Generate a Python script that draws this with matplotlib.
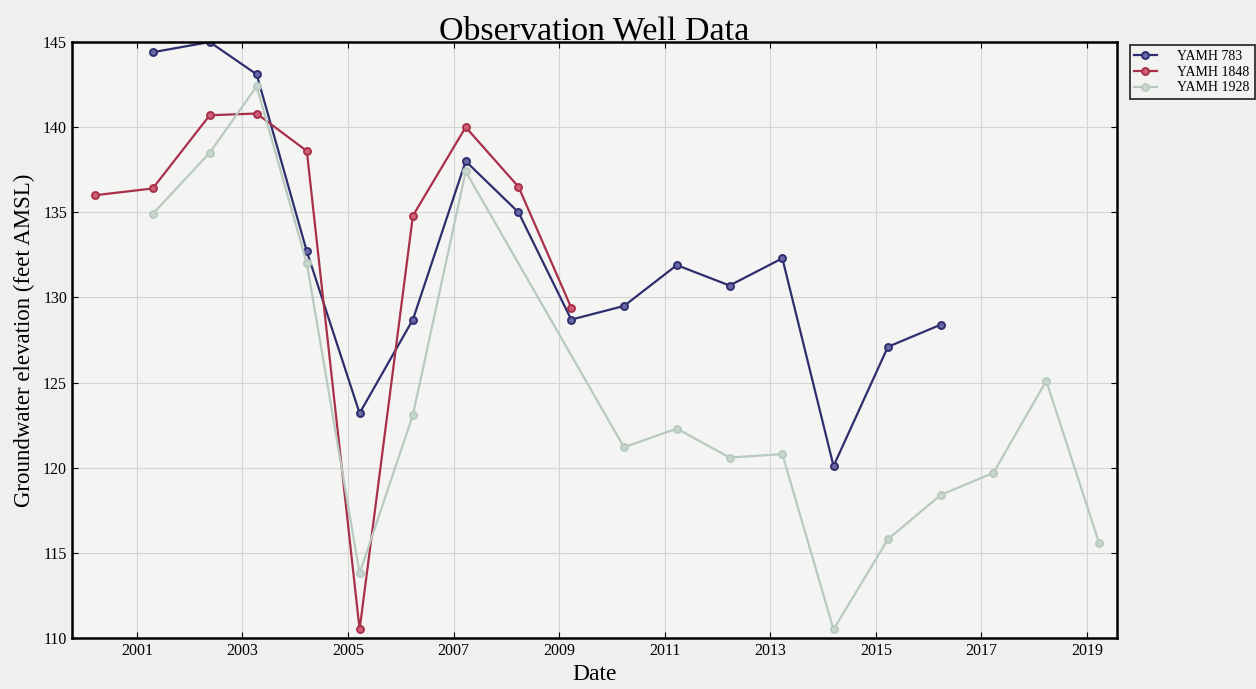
import numpy as np
import matplotlib
matplotlib.use("Agg")
import matplotlib.pyplot as plt

# decimal-year sample dates and elevations (feet AMSL)
yamh783_t = [2001.3, 2002.38, 2003.27, 2004.22, 2005.22, 2006.23, 2007.23, 2008.23,
             2009.23, 2010.23, 2011.23, 2012.23, 2013.23, 2014.2, 2015.23, 2016.23]
yamh783_v = [144.4, 145.0, 143.1, 132.7, 123.2, 128.7, 138.0, 135.0,
             128.7, 129.5, 131.9, 130.7, 132.3, 120.1, 127.1, 128.4]

yamh1848_t = [2000.2, 2001.3, 2002.38, 2003.27, 2004.22, 2005.22, 2006.23, 2007.23,
              2008.23, 2009.23]
yamh1848_v = [136.0, 136.4, 140.7, 140.8, 138.6, 110.5, 134.8, 140.0, 136.5, 129.4]

yamh1928_t = [2001.3, 2002.38, 2003.27, 2004.22, 2005.22, 2006.23, 2007.23, 2010.23,
              2011.23, 2012.23, 2013.23, 2014.2, 2015.23, 2016.23, 2017.23, 2018.23,
              2019.23]
yamh1928_v = [134.9, 138.5, 142.4, 132.0, 113.8, 123.1, 137.4, 121.2,
              122.3, 120.6, 120.8, 110.5, 115.8, 118.4, 119.7, 125.1, 115.6]

year_ticks = [2001, 2003, 2005, 2007, 2009, 2011, 2013, 2015, 2017, 2019]
elev_ticks = [110, 115, 120, 125, 130, 135, 140, 145]

plt.rcParams["font.family"] = ["Liberation Serif", "DejaVu Serif"]

fig = plt.figure(figsize=(12.56, 6.89), dpi=100, facecolor="#efefed")
ax = fig.add_axes([0.0573, 0.074, 0.832, 0.865], facecolor="#f4f4f2")

ax.plot(yamh783_t, yamh783_v, "-o", color="#2e2e6e", mfc="#6a6aa8", mec="#2e2e6e",
        ms=5, mew=1.4, lw=1.6, label="YAMH 783")
ax.plot(yamh1848_t, yamh1848_v, "-o", color="#a8304a", mfc="#d06078", mec="#a8304a",
        ms=5, mew=1.4, lw=1.6, label="YAMH 1848")
ax.plot(yamh1928_t, yamh1928_v, "-o", color="#b8cac0", mfc="#c8d6ce", mec="#b8cac0",
        ms=5, mew=1.4, lw=1.6, label="YAMH 1928")

ax.set_xlim(1999.77, 2019.57)
ax.set_ylim(110, 145)
ax.set_xticks(year_ticks)
ax.set_yticks(elev_ticks)
ax.grid(True, color="#d4d4d4", lw=0.8)
ax.tick_params(direction="in", top=True, right=True, labelsize=11.5, length=4)
for s in ax.spines.values():
    s.set_linewidth(1.8)

ax.set_title("Observation Well Data", fontsize=24.5, pad=2)
ax.set_xlabel("Date", fontsize=17, labelpad=4)
ax.set_ylabel("Groundwater elevation (feet AMSL)", fontsize=16.5, labelpad=6)

leg = ax.legend(loc="upper left", bbox_to_anchor=(1.012, 0.995), fontsize=10,
                frameon=True, fancybox=False, edgecolor="black", handlelength=1.6,
                borderaxespad=0.0, labelspacing=0.2, handletextpad=1.5,
                borderpad=0.35)
leg.get_frame().set_linewidth(1.3)
leg.get_frame().set_facecolor("#f4f4f2")

fig.savefig("out.png", dpi=100, facecolor=fig.get_facecolor())
